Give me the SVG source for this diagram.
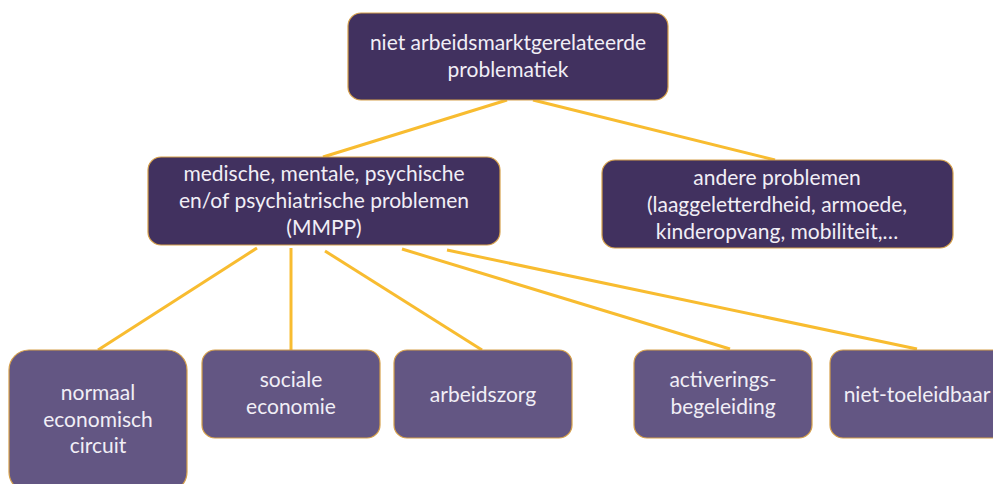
<svg xmlns="http://www.w3.org/2000/svg" width="993" height="484" viewBox="0 0 993 484">
<style>
.dark{fill:#41315F;stroke:#D6A04A;stroke-width:1.2}
.light{fill:#635683;stroke:#D6A04A;stroke-width:1.2}
text{font-family:Lato,"Open Sans","Liberation Sans",sans-serif;font-size:21px;fill:#F1EEF6;text-anchor:middle}
.conn line{stroke:#F8BC30;stroke-width:3;stroke-linecap:butt}
</style>
<rect width="993" height="484" fill="#FFFFFF"/>
<g class="conn" id="connectors">
<line x1="507" y1="100" x2="323" y2="157"/>
<line x1="533" y1="100" x2="775" y2="160"/>
<line x1="257" y1="248" x2="98" y2="350"/>
<line x1="291" y1="248" x2="291" y2="350"/>
<line x1="325" y1="251" x2="482" y2="350"/>
<line x1="402" y1="249" x2="730" y2="349"/>
<line x1="447" y1="250" x2="917" y2="349"/>
</g>
<g id="n-root">
<rect class="dark" x="348" y="13" width="320" height="87" rx="13"/>
<text x="508" y="50">niet arbeidsmarktgerelateerde</text>
<text x="508" y="77">problematiek</text>
</g>
<g id="n-mmpp">
<rect class="dark" x="148" y="157" width="352" height="88" rx="13"/>
<text x="324" y="181">medische, mentale, psychische</text>
<text x="324" y="208">en/of psychiatrische problemen</text>
<text x="324" y="235">(MMPP)</text>
</g>
<g id="n-andere">
<rect class="dark" x="602" y="160" width="351" height="88" rx="13"/>
<text x="777" y="185">andere problemen</text>
<text x="777" y="212">(laaggeletterdheid, armoede,</text>
<text x="777" y="239">kinderopvang, mobiliteit,…</text>
</g>
<g id="n-normaal">
<rect class="light" x="9" y="350" width="178" height="142" rx="20"/>
<text x="98" y="400">normaal</text>
<text x="98" y="427">economisch</text>
<text x="98" y="453">circuit</text>
</g>
<g id="n-sociale">
<rect class="light" x="202" y="350" width="178" height="88" rx="13"/>
<text x="291" y="387">sociale</text>
<text x="291" y="414">economie</text>
</g>
<g id="n-arbeidszorg">
<rect class="light" x="394" y="350" width="178" height="88" rx="13"/>
<text x="483" y="402">arbeidszorg</text>
</g>
<g id="n-activering">
<rect class="light" x="634" y="350" width="178" height="88" rx="13"/>
<text x="723" y="387">activerings-</text>
<text x="723" y="414">begeleiding</text>
</g>
<g id="n-niet">
<rect class="light" x="830" y="350" width="178" height="88" rx="13"/>
<text x="917" y="402">niet-toeleidbaar</text>
</g>
</svg>
